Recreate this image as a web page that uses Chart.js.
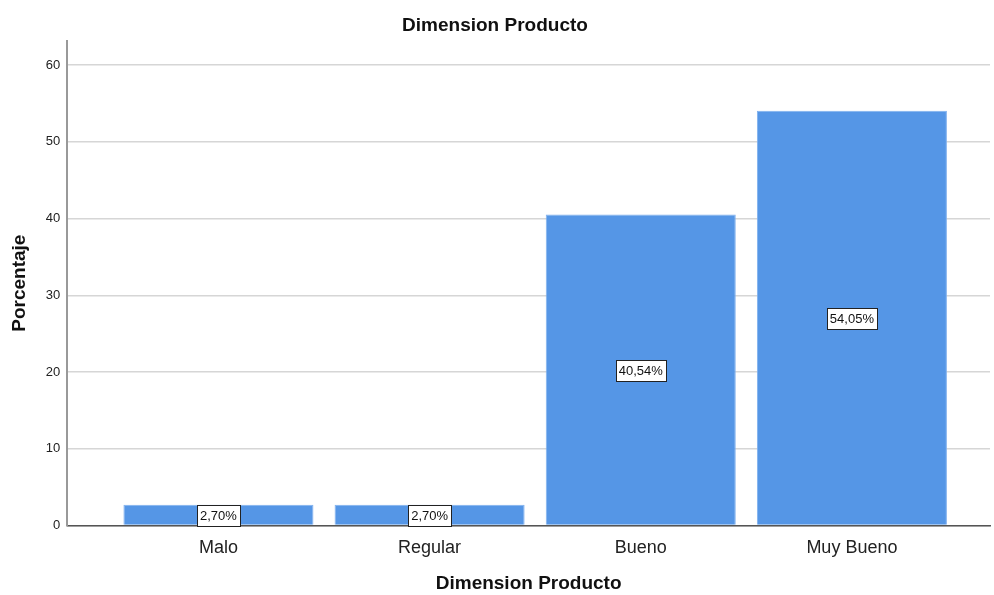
<!DOCTYPE html>
<html>
<head>
<meta charset="utf-8">
<script src="https://cdn.jsdelivr.net/npm/chart.js@4.4.1/dist/chart.umd.min.js"></script>
<style>
  body { margin: 0; background: #fff; }
  #grafico { display: block; }
</style>
</head>
<body>
<canvas id="grafico" width="994" height="595"></canvas>
<script>
// datos
const categorias = ["Malo", "Regular", "Bueno", "Muy Bueno"];
const porcentajes = [2.70, 2.70, 40.54, 54.05];
const ticksY = [0, 10, 20, 30, 40, 50, 60];

const fuente = "'Liberation Sans', Arial, sans-serif";

// etiquetas con recuadro en el centro de cada barra
const etiquetas = {
  id: "etiquetas",
  afterDatasetsDraw(chart) {
    const ctx = chart.ctx;
    const meta = chart.getDatasetMeta(0);
    ctx.save();
    ctx.font = "13px " + fuente;
    ctx.textAlign = "center";
    ctx.textBaseline = "middle";
    meta.data.forEach((bar, i) => {
      const texto = porcentajes[i].toFixed(2).replace(".", ",") + "%";
      const cx = bar.x;
      const cy = (bar.y + bar.base) / 2 + 1;
      const w = Math.round(ctx.measureText(texto).width + 6);
      const h = 21;
      const x0 = Math.round(cx - w / 2) + 0.5;
      const y0 = Math.round(cy - h / 2) + 0.5;
      ctx.fillStyle = "#fff";
      ctx.fillRect(x0, y0, w, h);
      ctx.strokeStyle = "#222";
      ctx.lineWidth = 1;
      ctx.strokeRect(x0, y0, w, h);
      ctx.fillStyle = "#111";
      ctx.fillText(texto, cx, cy + 1);
    });
    ctx.restore();
  }
};

new Chart(document.getElementById("grafico"), {
  type: "bar",
  data: {
    datasets: [{
      data: porcentajes.map((v, i) => ({ x: i + 1, y: v })),
      backgroundColor: "#5596e6",
      borderColor: "#7fb0ee",
      borderWidth: 1,
      barPercentage: 0.9,
      categoryPercentage: 1
    }]
  },
  options: {
    responsive: false,
    animation: false,
    layout: { padding: { left: 0, right: 4, top: 0, bottom: 0 } },
    plugins: {
      legend: { display: false },
      tooltip: { enabled: false },
      title: {
        display: true,
        text: "Dimension Producto",
        color: "#111",
        font: { family: fuente, size: 19, weight: "bold" },
        padding: { top: 14, bottom: 4 }
      }
    },
    scales: {
      x: {
        type: "linear",
        offset: false,
        min: 0.284,
        max: 4.654,
        afterBuildTicks: s => { s.ticks = categorias.map((c, i) => ({ value: i + 1 })); },
        ticks: {
          callback: v => categorias[v - 1],
          color: "#222",
          font: { family: fuente, size: 18 },
          padding: 12,
          maxRotation: 0,
          autoSkip: false
        },
        grid: { display: false, drawTicks: false },
        border: { display: true, color: "#555", width: 1.5 },
        title: {
          display: true,
          text: "Dimension Producto",
          color: "#111",
          font: { family: fuente, size: 19, weight: "bold" },
          padding: { top: 1, bottom: 0 }
        }
      },
      y: {
        min: 0,
        max: 63.15,
        afterBuildTicks: s => { s.ticks = ticksY.map(v => ({ value: v })); },
        ticks: {
          color: "#222",
          font: { family: fuente, size: 13 },
          padding: 7
        },
        grid: { color: "#d6d6d6", lineWidth: 1.5, drawTicks: false },
        border: { display: true, color: "#999", width: 2 },
        title: {
          display: true,
          text: "Porcentaje",
          color: "#111",
          font: { family: fuente, size: 19, weight: "bold" },
          padding: { top: 8, bottom: 8 }
        }
      }
    }
  },
  plugins: [etiquetas]
});
</script>
</body>
</html>
